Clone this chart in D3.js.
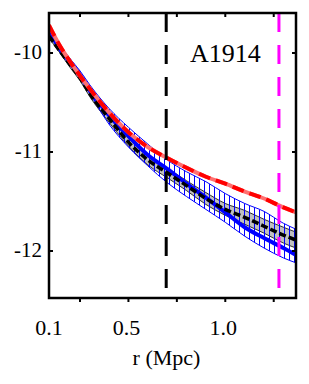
<!DOCTYPE html>
<html>
<head>
<meta charset="utf-8">
<script src="https://cdn.jsdelivr.net/npm/d3@7"></script>
<style>
  body { margin: 0; background: #fff; }
  svg { display: block; }
  text { font-family: "Liberation Serif", "Times New Roman", serif; }
</style>
</head>
<body>
<svg id="chart" width="309" height="384"></svg>
<script>
// radius grid (Mpc) and profiles (log10 values)
var radius = [0.09, 0.15, 0.2, 0.25, 0.3, 0.4, 0.5, 0.6, 0.7, 0.8, 0.9, 1.0, 1.1, 1.2, 1.3, 1.365];
var redProfile = [-9.72, -9.94, -10.09, -10.23, -10.36, -10.60, -10.80, -10.95, -11.06, -11.16, -11.25, -11.32, -11.40, -11.47, -11.56, -11.61];
var blackProfile = [-9.83, -9.99, -10.12, -10.25, -10.41, -10.66, -10.90, -11.08, -11.21, -11.34, -11.47, -11.58, -11.66, -11.75, -11.84, -11.89];
var blackHi = [-9.81, -9.97, -10.09, -10.22, -10.38, -10.62, -10.86, -11.03, -11.16, -11.29, -11.41, -11.52, -11.59, -11.68, -11.76, -11.81];
var blackLo = [-9.85, -10.01, -10.15, -10.28, -10.44, -10.70, -10.94, -11.13, -11.26, -11.39, -11.53, -11.64, -11.73, -11.82, -11.92, -11.97];
var blueProfile = [-9.77, -9.96, -10.09, -10.22, -10.37, -10.63, -10.84, -11.03, -11.17, -11.32, -11.46, -11.61, -11.76, -11.87, -11.97, -12.04];
var blueHi = [-9.74, -9.93, -10.06, -10.18, -10.32, -10.56, -10.75, -10.92, -11.08, -11.20, -11.30, -11.42, -11.52, -11.60, -11.72, -11.78];
var blueLo = [-9.81, -10.00, -10.13, -10.26, -10.41, -10.72, -10.95, -11.14, -11.31, -11.45, -11.58, -11.71, -11.85, -11.97, -12.07, -12.12];

var xTicks = [0.25, 0.5, 0.75, 1.0, 1.25];
var xLabels = [0.1, 0.5, 1.0];
var yTicks = [-10, -11, -12];
var innerLimit = 0.695;   // black dashed marker
var outerLimit = 1.277;   // magenta dashed marker
var clusterName = 'A1914';

var margin = {top: 13, right: 13, bottom: 86, left: 49};
var width = 309 - margin.left - margin.right;
var height = 384 - margin.top - margin.bottom;

var svg = d3.select('#chart');
var g = svg.append('g').attr('transform', 'translate(' + margin.left + ',' + margin.top + ')');

var x = d3.scaleLinear().domain([0.09, 1.365]).range([0, width]);
var y = d3.scaleLinear().domain([-12.475, -9.596]).range([height, 0]);

var defs = svg.append('defs');
defs.append('clipPath').attr('id', 'plot-clip')
  .append('rect').attr('width', width).attr('height', height);

var hatch = defs.append('pattern')
  .attr('id', 'hatch')
  .attr('patternUnits', 'userSpaceOnUse')
  .attr('width', 5).attr('height', 10);
hatch.append('line')
  .attr('x1', 0.5).attr('x2', 0.5).attr('y1', 0).attr('y2', 10)
  .attr('stroke', '#0000ff').attr('stroke-width', 1);

function rows(lo, hi) {
  return radius.map(function(r, i) { return {r: r, lo: lo[i], hi: hi[i]}; });
}
function points(vals) {
  return radius.map(function(r, i) { return {r: r, v: vals[i]}; });
}

var area = d3.area()
  .x(function(d) { return x(d.r); })
  .y0(function(d) { return y(d.lo); })
  .y1(function(d) { return y(d.hi); })
  .curve(d3.curveMonotoneX);

var line = d3.line()
  .x(function(d) { return x(d.r); })
  .y(function(d) { return y(d.v); })
  .curve(d3.curveMonotoneX);

var plot = g.append('g').attr('clip-path', 'url(#plot-clip)');

// grey band round the black profile
plot.append('path')
  .datum(rows(blackLo, blackHi))
  .attr('d', area)
  .attr('fill', '#c0c0c0')
  .attr('stroke', '#000')
  .attr('stroke-width', 0.8);

// hatched blue band
plot.append('path')
  .datum(rows(blueLo, blueHi))
  .attr('d', area)
  .attr('fill', 'url(#hatch)')
  .attr('stroke', '#0000ff')
  .attr('stroke-width', 1);

plot.append('path')
  .datum(points(blueProfile))
  .attr('d', line)
  .attr('fill', 'none')
  .attr('stroke', '#0000ff')
  .attr('stroke-width', 4);

plot.append('path')
  .datum(points(blackProfile))
  .attr('d', line)
  .attr('fill', 'none')
  .attr('stroke', '#000')
  .attr('stroke-width', 3.5)
  .attr('stroke-dasharray', '7,3');

// red profile: light underlay with dashed red on top
plot.append('path')
  .datum(points(redProfile))
  .attr('d', line)
  .attr('fill', 'none')
  .attr('stroke', '#ff7070')
  .attr('stroke-width', 4);
plot.append('path')
  .datum(points(redProfile))
  .attr('d', line)
  .attr('fill', 'none')
  .attr('stroke', '#ff0000')
  .attr('stroke-width', 4)
  .attr('stroke-dasharray', '12,6');

// vertical markers
g.append('line')
  .attr('x1', x(innerLimit)).attr('x2', x(innerLimit))
  .attr('y1', 0).attr('y2', height)
  .attr('stroke', '#000').attr('stroke-width', 3)
  .attr('stroke-dasharray', '19,13');
g.append('line')
  .attr('x1', x(outerLimit)).attr('x2', x(outerLimit))
  .attr('y1', 0).attr('y2', height)
  .attr('stroke', '#ff00ff').attr('stroke-width', 3)
  .attr('stroke-dasharray', '19,13');

// frame
g.append('rect')
  .attr('width', width).attr('height', height)
  .attr('fill', 'none').attr('stroke', '#000').attr('stroke-width', 2.5);

// ticks: inward on top / left / right, outward on bottom
var ticks = g.append('g').attr('stroke', '#000').attr('stroke-width', 2);
xTicks.forEach(function(t) {
  ticks.append('line').attr('x1', x(t)).attr('x2', x(t)).attr('y1', 0).attr('y2', 4);
  ticks.append('line').attr('x1', x(t)).attr('x2', x(t)).attr('y1', height).attr('y2', height + 4);
});
yTicks.forEach(function(t) {
  ticks.append('line').attr('x1', 0).attr('x2', 4).attr('y1', y(t)).attr('y2', y(t));
  ticks.append('line').attr('x1', width - 4).attr('x2', width).attr('y1', y(t)).attr('y2', y(t));
});

g.selectAll('.xlabel')
  .data(xLabels)
  .enter().append('text')
  .attr('class', 'xlabel')
  .attr('x', function(d) { return x(d) - 2; })
  .attr('y', height + 37)
  .attr('text-anchor', 'middle')
  .attr('font-size', 22)
  .text(function(d) { return d3.format('.1f')(d); });

g.selectAll('.ylabel')
  .data(yTicks)
  .enter().append('text')
  .attr('class', 'ylabel')
  .attr('x', -7)
  .attr('y', function(d) { return y(d) + 6; })
  .attr('text-anchor', 'end')
  .attr('font-size', 21)
  .text(function(d) { return '-' + Math.abs(d); });

g.append('text')
  .attr('x', width / 2 - 6)
  .attr('y', height + 67)
  .attr('text-anchor', 'middle')
  .attr('font-size', 22)
  .text('r (Mpc)');

g.append('text')
  .attr('x', 190 - margin.left)
  .attr('y', 62 - margin.top)
  .attr('font-size', 26)
  .text(clusterName);
</script>
</body>
</html>
